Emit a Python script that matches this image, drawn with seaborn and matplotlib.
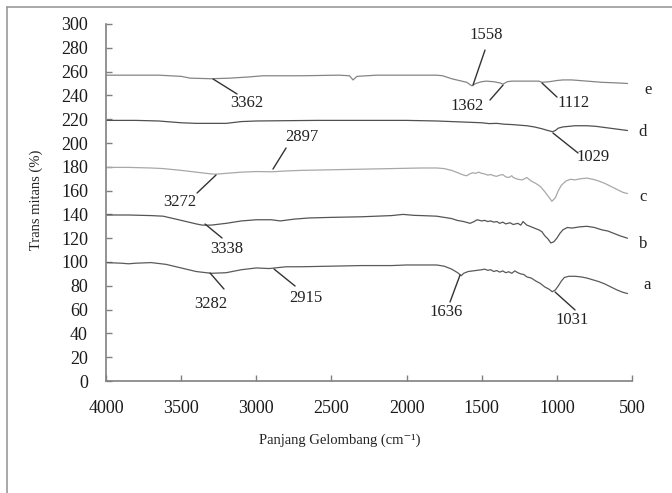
import numpy as np
import pandas as pd
import matplotlib
matplotlib.use("Agg")
import matplotlib.pyplot as plt
from matplotlib.lines import Line2D
import seaborn as sns

sns.set_style("white")
plt.rcParams['font.family'] = ['Liberation Serif', 'DejaVu Serif']

# ---- data ----
x_a = [4000, 3900, 3850, 3800, 3700, 3600, 3500, 3400, 3300, 3200, 3100, 3000, 2915, 2800, 2700, 2500, 2300, 2100, 2000, 1900, 1800, 1750, 1700, 1660, 1636, 1620, 1590, 1560, 1530, 1500, 1480, 1460, 1440, 1420, 1400, 1380, 1360, 1340, 1320, 1300, 1280, 1260, 1240, 1220, 1200, 1170, 1140, 1110, 1080, 1050, 1031, 1010, 990, 970, 950, 920, 880, 840, 800, 760, 720, 680, 640, 600, 560, 530]
y_a = [99.5, 99, 98.5, 99, 99.5, 98, 95, 92, 90.5, 91, 93.5, 95, 94.5, 96, 96, 96.5, 97, 97, 97.5, 97.5, 97.5, 96.5, 94, 91, 88.5, 90.5, 92, 92.5, 93, 93.5, 94, 93, 93.5, 92, 92.8, 91.5, 92.5, 91, 91.8, 90.5, 92.5, 91, 90, 89.5, 87.5, 86.5, 84, 82, 79, 77, 75, 76.5, 80, 84, 87, 88, 88, 87.5, 86.5, 85, 83.5, 81.5, 79, 76.5, 74.5, 73.5]

x_b = [4000, 3850, 3700, 3620, 3500, 3400, 3360, 3300, 3200, 3100, 3000, 2900, 2840, 2750, 2650, 2500, 2300, 2100, 2024, 1950, 1900, 1800, 1750, 1700, 1664, 1620, 1578, 1550, 1531, 1500, 1480, 1460, 1440, 1420, 1400, 1380, 1360, 1340, 1312, 1290, 1260, 1240, 1225, 1200, 1179, 1150, 1120, 1100, 1080, 1060, 1040, 1020, 1000, 980, 960, 930, 900, 850, 800, 750, 700, 660, 620, 580, 530]
y_b = [139.5, 139.5, 139, 138.5, 135, 132, 131, 131, 132.5, 134.5, 135.5, 135.5, 134.5, 136, 137, 137.5, 138, 139, 140, 139.2, 139, 138.5, 137.5, 136.5, 135, 134, 132.5, 134, 135.5, 134.5, 135, 134, 134.5, 133.5, 134, 132.5, 133.5, 132, 133, 131.5, 132.5, 131, 134, 131, 130, 128.5, 127, 125.5, 122, 119.5, 116, 117, 120, 124, 127, 129, 128.5, 129.5, 130, 129, 127, 126, 124, 122, 120]

x_c = [4000, 3850, 3700, 3620, 3500, 3400, 3300, 3272, 3200, 3100, 3000, 2897, 2800, 2700, 2500, 2300, 2100, 1900, 1800, 1750, 1700, 1670, 1650, 1620, 1600, 1580, 1560, 1540, 1520, 1500, 1480, 1460, 1440, 1420, 1400, 1380, 1360, 1340, 1320, 1300, 1290, 1270, 1260, 1230, 1200, 1170, 1140, 1110, 1080, 1050, 1033, 1010, 990, 970, 940, 910, 880, 840, 800, 760, 720, 680, 640, 600, 560, 530]
y_c = [179.5, 179.5, 179, 178.5, 177, 175.5, 174, 173.8, 174.5, 175.5, 176, 175.8, 176.5, 177, 177.5, 178, 178.5, 179, 179, 178.5, 177, 175.5, 174.5, 173, 172.5, 174, 175, 174.5, 175.5, 174.5, 174, 173, 173.5, 172.5, 172, 173, 173.5, 171.5, 171, 172.5, 171, 170, 169.5, 169, 171, 168, 166, 163.5, 159, 154, 151, 154, 160, 164.5, 168, 169.5, 169, 170, 170.5, 169.5, 168, 166, 163.5, 161, 158.5, 157.5]

x_d = [4000, 3800, 3650, 3500, 3400, 3200, 3100, 3000, 2600, 2300, 2000, 1800, 1700, 1600, 1500, 1450, 1400, 1350, 1300, 1250, 1200, 1150, 1100, 1060, 1029, 1010, 990, 960, 920, 880, 840, 800, 740, 680, 620, 560, 530]
y_d = [219, 219, 218.5, 217, 216.5, 216.5, 218, 218.5, 219, 219, 219, 218.5, 218, 217.5, 217, 216.3, 216.5, 215.8, 215.5, 215, 214.5, 213.5, 212, 210.5, 209.5, 210.5, 212.5, 213.5, 214, 214.5, 214.5, 214.5, 214, 213, 212, 211, 210.5]

x_e = [4000, 3800, 3650, 3500, 3440, 3300, 3175, 3050, 2955, 2700, 2450, 2380, 2356, 2330, 2200, 2000, 1800, 1760, 1700, 1650, 1600, 1565, 1540, 1500, 1470, 1420, 1380, 1358, 1330, 1300, 1200, 1120, 1099, 1050, 1000, 960, 900, 800, 700, 600, 530]
y_e = [257, 257, 257, 256, 254.5, 254, 254.5, 255.5, 256.5, 256.5, 257, 256.5, 253, 256, 257, 257, 257, 256.5, 254, 252.5, 251, 248, 250, 251.5, 252, 251.5, 250.5, 249.5, 251.5, 252, 252, 252, 251, 251.5, 252.5, 253, 253, 252, 251, 250.5, 250]

series_names = ["a", "b", "c", "d", "e"]
series_x = [x_a, x_b, x_c, x_d, x_e]
series_y = [y_a, y_b, y_c, y_d, y_e]
colors = {"a": "#5a5a5a", "b": "#555555", "c": "#a8a8a8", "d": "#505050", "e": "#858585"}

# annotation labels: (text, curve point, line end, text position)
peak_labels = ["3362", "2897", "3272", "3338", "3282", "2915", "1636", "1031", "1558", "1362", "1112", "1029"]
peak_line_start = [(3288, 253.8), (2889, 178.1), (3268, 173.1), (3341, 131.9), (3308, 90.8), (2882, 94.1),
                   (1644, 89.1), (1012, 74.8), (1558, 248.7), (1358, 248.7), (1099, 250.4), (1026, 208.4)]
peak_line_end = [(3128, 241.2), (2802, 195.8), (3394, 158.0), (3228, 120.2), (3215, 77.3), (2742, 79.8),
                 (1711, 66.4), (879, 59.7), (1478, 278.1), (1445, 236.1), (999, 238.6), (859, 191.6)]
peak_text_pos = [(3062, 233.6), (2696, 205.0), (3508, 150.4), (3195, 110.9), (3301, 64.7), (2669, 69.7),
                 (1738, 58.0), (899, 51.3), (1472, 290.7), (1598, 231.1), (886, 233.6), (759, 188.2)]

series_label_pos = {"a": (400, 80.7), "b": (427, 115.1), "c": (427, 154.6), "d": (427, 209.2), "e": (394, 244.5)}

x_ticks = [4000, 3500, 3000, 2500, 2000, 1500, 1000, 500]
y_ticks = list(range(0, 301, 20))

rows = []
for name, xs, ys in zip(series_names, series_x, series_y):
    for xv, yv in zip(xs, ys):
        rows.append({"wn": xv, "T": yv, "s": name})
df = pd.DataFrame(rows)

W, H = 672, 493
fig = plt.figure(figsize=(W / 100, H / 100), dpi=100)
ax = fig.add_axes([106 / W, (H - 381) / H, (632 - 106) / W, (381 - 24) / H])

sns.lineplot(data=df, x="wn", y="T", hue="s", palette=colors, ax=ax,
             legend=False, linewidth=0.9, estimator=None, sort=False)

ax.set_xlim(4000, 500)
ax.set_ylim(0, 300)
ax.set_xticks(x_ticks)
ax.set_xticklabels([str(t) for t in x_ticks])
ax.set_yticks(y_ticks)
ax.set_yticklabels([str(t) for t in y_ticks])
ax.set_xlabel("")
ax.set_ylabel("")
for side in ["top", "right"]:
    ax.spines[side].set_visible(False)
for side in ["left", "bottom"]:
    ax.spines[side].set_color("#808080")
    ax.spines[side].set_linewidth(1.2)
ax.tick_params(axis="y", direction="in", length=4, width=1, color="#808080",
               labelsize=13, pad=13, left=True, labelcolor="#1a1a1a")
ax.tick_params(axis="x", direction="in", length=4, width=1, color="#808080",
               labelsize=13, pad=14, bottom=True, labelcolor="#1a1a1a")
ax.grid(False)

txt_color = "#222222"
for lab, s, e, tp in zip(peak_labels, peak_line_start, peak_line_end, peak_text_pos):
    ax.annotate("", xy=s, xytext=e,
                arrowprops=dict(arrowstyle="-", color="#333333", lw=1.0,
                                shrinkA=0, shrinkB=0))
    ax.text(tp[0], tp[1], lab, ha="center", va="center", fontsize=12, color=txt_color)

for name in series_names:
    px, py = series_label_pos[name]
    ax.text(px, py, name, ha="center", va="center", fontsize=12, color=txt_color, clip_on=False)

fig.text(340 / W, 1 - 440 / H, "Panjang Gelombang (cm\u207b\u00b9)", ha="center", va="center",
         fontsize=10.5, color=txt_color)
fig.text(36 / W, 1 - 200 / H, "Trans mitans (%)", ha="center", va="center",
         rotation=90, fontsize=10.5, color=txt_color)

# outer chart border (top and left visible)
fig.add_artist(Line2D([7 / W, 1], [1 - 7 / H, 1 - 7 / H], transform=fig.transFigure,
                      color="#999999", lw=1.2))
fig.add_artist(Line2D([7 / W, 7 / W], [0, 1 - 7 / H], transform=fig.transFigure,
                      color="#999999", lw=1.2))

fig.savefig("out.png", dpi=100)
